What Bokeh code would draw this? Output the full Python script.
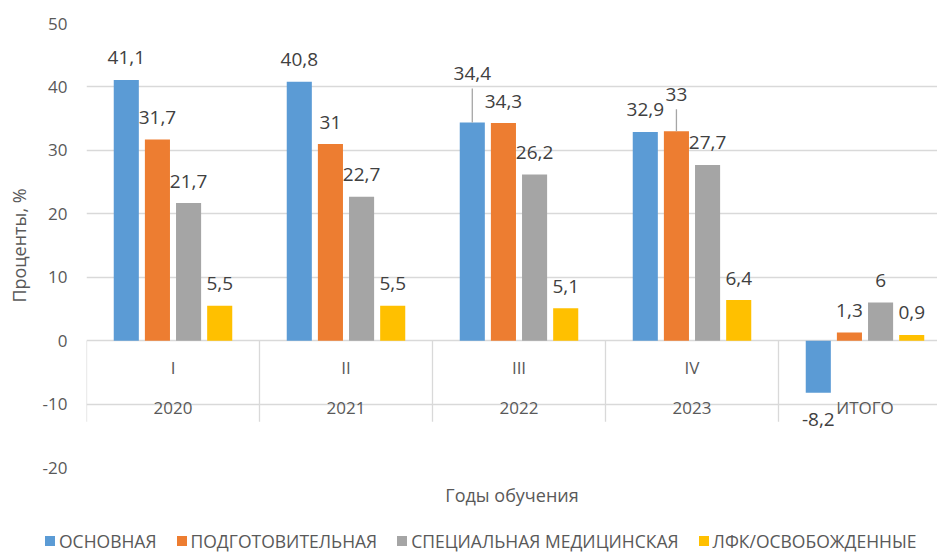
import numpy as np
from bokeh.plotting import figure
from bokeh.layouts import column
from bokeh.models import Range1d, CustomJSTickFormatter, Div
from bokeh.core.properties import value
from bokeh.embed import file_html
from bokeh.resources import INLINE

# ---------------- data ----------------
courses = ["I", "II", "III", "IV", ""]
years = ["2020", "2021", "2022", "2023", "ИТОГО"]
series_names = ["ОСНОВНАЯ", "ПОДГОТОВИТЕЛЬНАЯ", "СПЕЦИАЛЬНАЯ МЕДИЦИНСКАЯ", "ЛФК/ОСВОБОЖДЕННЫЕ"]
osnovnaya = [41.1, 40.8, 34.4, 32.9, -8.2]
podgotovitelnaya = [31.7, 31.0, 34.3, 33.0, 1.3]
specialnaya = [21.7, 22.7, 26.2, 27.7, 6.0]
lfk = [5.5, 5.5, 5.1, 6.4, 0.9]
y_ticks = [-20, -10, 0, 10, 20, 30, 40, 50]
y_title = "Проценты, %"
x_title = "Годы обучения"

# ---------------- style ----------------
colors = ["#5b9bd5", "#ed7d31", "#a5a5a5", "#ffc000"]
FONT = "Open Sans"
TXT = "#595959"
LBL = "#404040"
GRID = "#d9d9d9"
W = 937
H1, H2 = 520, 33
LEFT, TOP, BOTTOM = 86, 23, 53
CAT_PX = 173
x_end = (W - LEFT) / CAT_PX
y_min, y_max = -20, 50
px_per_unit = (H1 - TOP - BOTTOM) / (y_max - y_min)
offsets = [-0.27, -0.09, 0.09, 0.27]
bar_w = 0.145
# extra label lift (px) for labels with leader lines: (series, category) -> px above bar top
label_lift = {(0, 2): 49, (1, 3): 37}

p = figure(width=W, height=H1, x_range=Range1d(0, x_end), y_range=Range1d(y_min, y_max),
           output_backend="svg", toolbar_location=None,
           min_border_left=LEFT, min_border_right=0, min_border_top=TOP, min_border_bottom=BOTTOM)
p.outline_line_color = None
p.background_fill_color = "white"
p.border_fill_color = "white"
p.xgrid.visible = False
p.ygrid.ticker = y_ticks
p.ygrid.grid_line_color = GRID
p.ygrid.grid_line_width = 1.3

p.yaxis.ticker = y_ticks
p.yaxis.formatter = CustomJSTickFormatter(code="return tick.toString()")
p.yaxis.axis_line_color = None
p.yaxis.major_tick_line_color = None
p.yaxis.minor_tick_line_color = None
p.yaxis.major_tick_out = 0
p.yaxis.major_tick_in = 0
p.yaxis.major_label_standoff = 19
p.yaxis.major_label_text_font = FONT
p.yaxis.major_label_text_font_size = "17px"
p.yaxis.major_label_text_color = TXT
p.yaxis.axis_label = y_title
p.yaxis.axis_label_text_font = FONT
p.yaxis.axis_label_text_font_size = "18px"
p.yaxis.axis_label_text_font_style = "normal"
p.yaxis.axis_label_text_color = TXT
p.yaxis.axis_label_standoff = 9

p.xaxis.ticker = [2.5]
p.xaxis.major_label_text_alpha = 0
p.xaxis.major_label_text_font_size = "1px"
p.xaxis.axis_line_color = None
p.xaxis.major_tick_line_color = None
p.xaxis.minor_tick_line_color = None
p.xaxis.major_tick_out = 0
p.xaxis.major_tick_in = 0
p.xaxis.major_label_standoff = 0
p.xaxis.axis_label = x_title
p.xaxis.axis_label_text_font = FONT
p.xaxis.axis_label_text_font_size = "18px"
p.xaxis.axis_label_text_font_style = "normal"
p.xaxis.axis_label_text_color = TXT
p.xaxis.axis_label_standoff = 15

centers = np.arange(len(years)) + 0.5

# category axis separators
p.segment(x0=list(range(len(years))), y0=0, x1=list(range(len(years))), y1=-12.8,
          line_color=GRID, line_width=1.3)

all_series = [osnovnaya, podgotovitelnaya, specialnaya, lfk]
for si, vals in enumerate(all_series):
    xs = centers + offsets[si]
    p.vbar(x=xs, top=vals, bottom=0, width=bar_w, fill_color=colors[si], line_color=None)

for si, vals in enumerate(all_series):
    xs = centers + offsets[si]
    yoff = []
    for ci, v in enumerate(vals):
        if (si, ci) in label_lift:
            lift = label_lift[(si, ci)]
            yoff.append(-lift)
            p.segment(x0=[xs[ci]], y0=[v], x1=[xs[ci]], y1=[v + (lift - 15) / px_per_unit],
                      line_color="#a6a6a6", line_width=1.3)
        elif v >= 0:
            yoff.append(-22)
        else:
            yoff.append(27)
    texts = [("%g" % v).replace(".", ",") for v in vals]
    p.text(x=list(xs), y=vals, text=texts, y_offset=yoff, text_align="center",
           text_baseline="middle", text_font=value(FONT), text_font_size="19px",
           text_color=LBL)

# category labels
p.text(x=list(centers), y=-4.26, text=courses, text_align="center", text_baseline="middle",
       text_font=value(FONT), text_font_size="17px", text_color=TXT)
p.text(x=list(centers), y=-10.6, text=years, text_align="center", text_baseline="middle",
       text_font=value(FONT), text_font_size="17px", text_color=TXT)

# ---------------- legend strip ----------------
items_html = "".join(
    '<span style="display:inline-block;width:10px;height:10px;background:%s;'
    'margin-right:4px;vertical-align:middle;"></span>'
    '<span style="margin-right:20px;vertical-align:middle;">%s</span>' % (c, n)
    for c, n in zip(colors, series_names))
legend_div = Div(
    text='<div style="font-family:\'Open Sans\';font-size:17.5px;color:%s;white-space:nowrap;'
         'padding-left:45px;padding-top:9px;line-height:20px;">%s</div>' % (TXT, items_html),
    width=W, height=H2, margin=0)

layout = column(p, legend_div, spacing=0)
open("out.html", "w").write(file_html(layout, INLINE))
